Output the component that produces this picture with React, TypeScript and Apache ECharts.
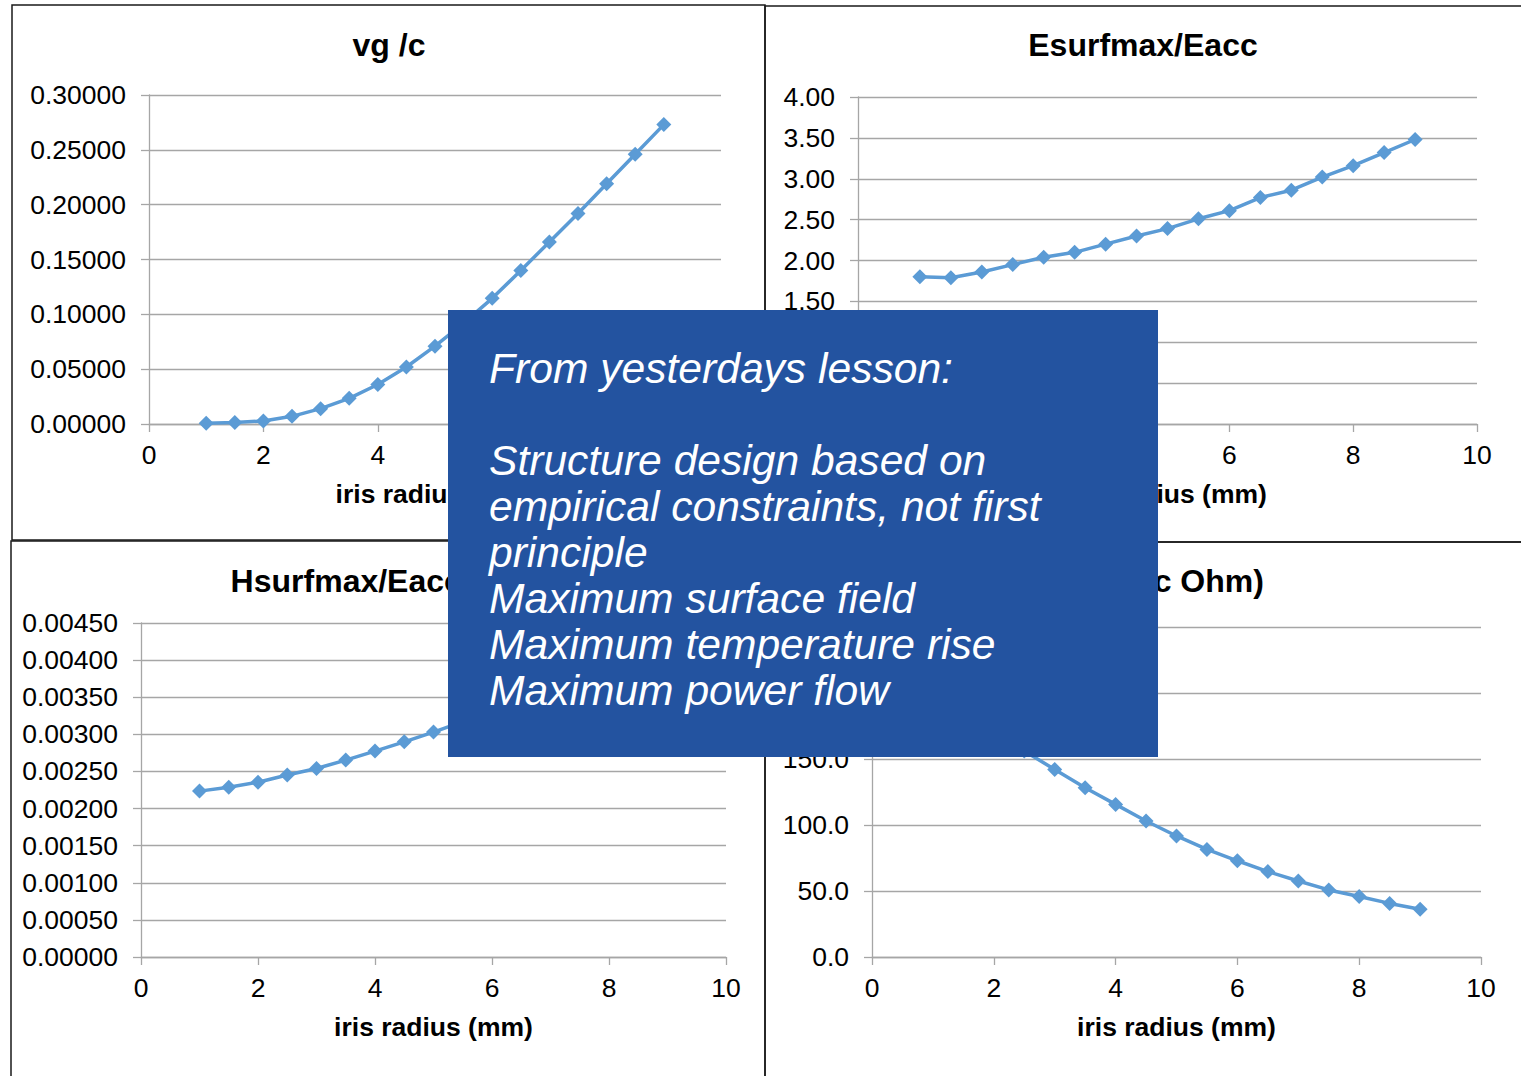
import { useEffect, useRef } from "react";
import * as echarts from "echarts";

// ---- data ----
const irisRadius = [1, 1.5, 2, 2.5, 3, 3.5, 4, 4.5, 5, 5.5, 6, 6.5, 7, 7.5, 8, 8.5, 9];
const vgOverC = [0.0006, 0.0013, 0.0028, 0.007, 0.014, 0.0234, 0.036, 0.052, 0.071, 0.092, 0.1146, 0.14, 0.166, 0.192, 0.219, 0.246, 0.273];
const esurfOverEacc = [1.8, 1.79, 1.86, 1.95, 2.04, 2.1, 2.2, 2.3, 2.39, 2.51, 2.61, 2.77, 2.86, 3.02, 3.16, 3.32, 3.48];
const hsurfOverEacc = [0.002235, 0.002286, 0.002355, 0.002453, 0.00254, 0.002653, 0.002774, 0.002899, 0.00303, 0.00317, 0.00331, 0.00346, 0.00362, 0.00378, 0.00395, 0.00413, 0.00431];
const rOverQ = [215, 193, 173, 156, 142.1, 128.2, 115.6, 103.0, 91.7, 81.5, 72.9, 64.7, 57.6, 50.8, 45.8, 40.6, 36.2];

const chartTitles = ["vg /c", "Esurfmax/Eacc", "Hsurfmax/Eacc (A/V)", "R/Q (linac Ohm)"];
const xAxisName = "iris radius (mm)";
const xTicks = { min: 0, max: 10, interval: 2 };
const yScales = [
  { min: 0, max: 0.3, interval: 0.05, decimals: 5 },
  { min: 0, max: 4, interval: 0.5, decimals: 2 },
  { min: 0, max: 0.0045, interval: 0.0005, decimals: 5 },
  { min: 0, max: 250, interval: 50, decimals: 1 },
];
const seriesValues = [vgOverC, esurfOverEacc, hsurfOverEacc, rOverQ];

const noteLines = [
  "From yesterdays lesson:",
  "",
  "Structure design based on",
  "empirical constraints, not first",
  "principle",
  "Maximum surface field",
  "Maximum temperature rise",
  "Maximum power flow",
];

const FONT = '"Liberation Sans", Arial, Helvetica, sans-serif';
const LINE = "#5B9BD5";
const GRID = "#A6A6A6";

// layout (pixels)
const grids = [
  { left: 149, top: 95, width: 572, height: 329 },
  { left: 858, top: 97, width: 619, height: 327 },
  { left: 141, top: 623, width: 585, height: 334 },
  { left: 872, top: 627, width: 609, height: 330 },
];
const titlePos = [
  { x: 389, y: 29 },
  { x: 1143, y: 29 },
  { x: 388, y: 565 },
  { x: 1143, y: 565 },
];

export default function App() {
  const ref = useRef<HTMLDivElement>(null);
  useEffect(() => {
    document.body.style.margin = "0";
    const chart = echarts.init(ref.current!, null, { renderer: "svg" });
    const axisLineStyle = { color: GRID, width: 1.3 };
    const option: any = {
      animation: false,
      backgroundColor: "#fff",
      title: chartTitles.map((t, i) => ({
        text: t,
        left: titlePos[i].x,
        top: titlePos[i].y,
        textAlign: "center",
        padding: 0,
        textStyle: { fontSize: 32, fontWeight: "bold", color: "#000", fontFamily: FONT },
      })),
      grid: grids.map((g) => ({ ...g, containLabel: false })),
      xAxis: grids.map((_, i) => ({
        type: "value",
        gridIndex: i,
        min: xTicks.min,
        max: xTicks.max,
        interval: xTicks.interval,
        name: xAxisName,
        nameLocation: "middle",
        nameGap: 56,
        nameTextStyle: { fontSize: 26.5, fontWeight: "bold", color: "#000", fontFamily: FONT },
        axisLine: { show: true, onZero: false, lineStyle: axisLineStyle },
        axisTick: { show: true, inside: false, length: 8, lineStyle: axisLineStyle },
        axisLabel: { fontSize: 26.5, color: "#000", fontFamily: FONT, margin: 17 },
        splitLine: { show: false },
      })),
      yAxis: yScales.map((s, i) => ({
        type: "value",
        gridIndex: i,
        min: s.min,
        max: s.max,
        interval: s.interval,
        axisLine: { show: true, lineStyle: axisLineStyle },
        axisTick: { show: true, inside: false, length: 8, lineStyle: axisLineStyle },
        axisLabel: {
          fontSize: 26.5,
          color: "#000",
          fontFamily: FONT,
          margin: 23,
          formatter: (v: number) => v.toFixed(s.decimals),
        },
        splitLine: { show: true, lineStyle: axisLineStyle },
      })),
      series: seriesValues.map((vals, i) => ({
        type: "line",
        xAxisIndex: i,
        yAxisIndex: i,
        data: irisRadius.map((x, k) => [x, vals[k]]),
        symbol: "diamond",
        symbolSize: 15,
        showSymbol: true,
        lineStyle: { color: LINE, width: 3.5 },
        itemStyle: { color: LINE },
        z: 3,
      })),
      graphic: [
        { type: "rect", z: 50, shape: { x: 12, y: 5, width: 753, height: 535 }, style: { fill: "none", stroke: "#1a1a1a", lineWidth: 1.5 } },
        { type: "rect", z: 50, shape: { x: 765, y: 6, width: 800, height: 536 }, style: { fill: "none", stroke: "#1a1a1a", lineWidth: 1.5 } },
        { type: "rect", z: 50, shape: { x: 11, y: 541, width: 754, height: 600 }, style: { fill: "none", stroke: "#1a1a1a", lineWidth: 1.5 } },
        { type: "rect", z: 50, shape: { x: 765, y: 542, width: 800, height: 600 }, style: { fill: "none", stroke: "#1a1a1a", lineWidth: 1.5 } },
        { type: "rect", z: 100, shape: { x: 448, y: 310, width: 710, height: 447 }, style: { fill: "#2353A0" } },
        {
          type: "text",
          z: 101,
          x: 489,
          y: 345,
          style: {
            text: noteLines.join("\n"),
            font: `italic 42.6px ${FONT}`,
            fill: "#fff",
            lineHeight: 46,
            verticalAlign: "top",
            align: "left",
          },
        },
      ],
    };
    chart.setOption(option);
    return () => chart.dispose();
  }, []);
  return <div ref={ref} style={{ width: 1521, height: 1076, background: "#fff" }} />;
}
